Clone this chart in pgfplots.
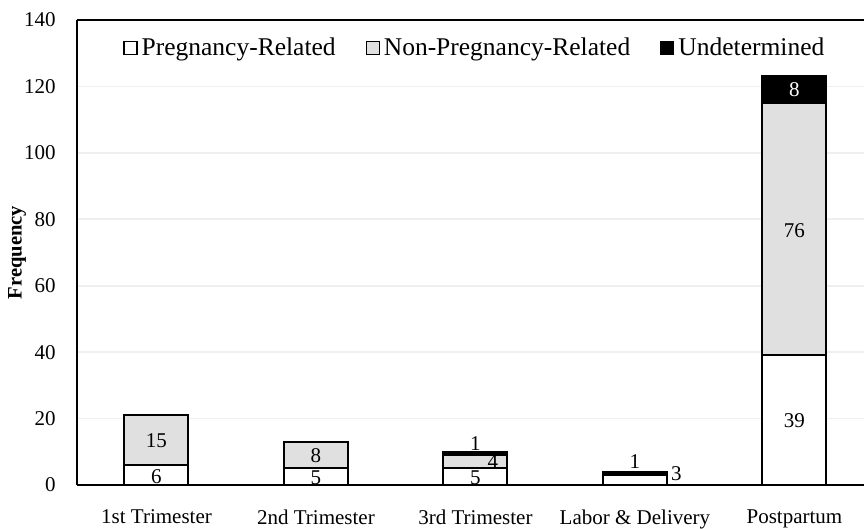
\documentclass[border=0pt]{standalone}
\usepackage{fontspec}
\setmainfont{Liberation Serif}
\usepackage{pgfplots}
\pgfplotsset{compat=1.18}
\definecolor{npr}{HTML}{E0E0E0}
\definecolor{gridc}{HTML}{EFEFEF}
\tikzset{lbl/.style={font=\fontsize{10.5}{12}\selectfont, inner sep=0pt, anchor=center}}
\pgfplotsset{sqlegend/.style={legend image code/.code={\draw[##1, line width=0.6pt] (0pt,-3.3pt) rectangle (6.5pt,3.3pt);}}}
\begin{document}
\begin{tikzpicture}
\begin{axis}[
 name=ax,
 scale only axis, width=393.6pt, height=232.5pt,
 xmin=-0.5, xmax=4.436, ymin=0, ymax=140,
 ybar stacked, bar width=32pt,
 axis x line*=box, axis y line*=left,
 axis line style={line width=1pt},
 xtick={0,...,4},
 xticklabels={1st Trimester, 2nd Trimester, 3rd Trimester, Labor \& Delivery, Postpartum},
 ytick={0,20,...,140},
 major tick length=0pt,
 ymajorgrids, grid style={color=gridc, line width=0.8pt},
 /pgf/number format/assume math mode=true,
 xticklabel style={font=\fontsize{10.5}{12}\selectfont, yshift=-9pt},
 yticklabel style={font=\fontsize{10.5}{12}\selectfont, xshift=-7pt},
 ylabel={Frequency},
 ylabel style={font=\fontsize{10.3}{12}\selectfont\bfseries, at={(axis description cs:-0.0759,0.5)}, anchor=center},
 legend columns=3,
 legend style={draw=none, fill=none, inner sep=0pt, at={(axis description cs:0.0588,0.94)}, anchor=west,
   font=\fontsize{12.75}{15}\selectfont,
   /tikz/every even column/.append style={column sep=13pt},
   /tikz/every odd column/.append style={column sep=0pt}},
]
\addplot[fill=white, draw=black, line width=1pt, sqlegend] coordinates {(0,6)(1,5)(2,5)(3,3)(4,39)};
\addplot[fill=npr, draw=black, line width=1pt, sqlegend] coordinates {(0,15)(1,8)(2,4)(3,0)(4,76)};
\addplot[fill=black, draw=black, line width=1pt, sqlegend] coordinates {(0,0)(1,0)(2,1)(3,1)(4,8)};
\legend{Pregnancy-Related, Non-Pregnancy-Related, Undetermined}
\coordinate (a1) at (axis cs:0,2.6);
\coordinate (a2) at (axis cs:0,13.3);
\coordinate (b1) at (axis cs:1,2.2);
\coordinate (b2) at (axis cs:1,8.7);
\coordinate (c1) at (axis cs:2,2.2);
\coordinate (c2) at (axis cs:2.11,7);
\coordinate (c3) at (axis cs:2,12.6);
\coordinate (d3) at (axis cs:3,7.2);
\coordinate (d1) at (axis cs:3.26,3.3);
\coordinate (e1) at (axis cs:4,19.3);
\coordinate (e2) at (axis cs:4,76.5);
\coordinate (e3) at (axis cs:4,119);
\end{axis}
\node[lbl] at (a1) {6};
\node[lbl] at (a2) {15};
\node[lbl] at (b1) {5};
\node[lbl] at (b2) {8};
\node[lbl] at (c1) {5};
\node[lbl] at (c2) {4};
\node[lbl] at (c3) {1};
\node[lbl] at (d3) {1};
\node[lbl] at (d1) {3};
\node[lbl] at (e1) {39};
\node[lbl] at (e2) {76};
\node[lbl, text=white] at (e3) {8};
\pgfresetboundingbox
\path (ax.south west) ++(-38.375pt,-22pt) rectangle ++(432pt,264.5pt);
\end{tikzpicture}
\end{document}
